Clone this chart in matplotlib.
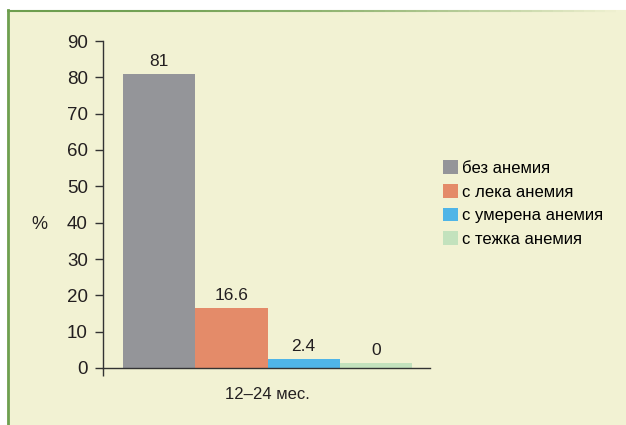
import numpy as np
import matplotlib.pyplot as plt
from matplotlib.patches import Rectangle
from matplotlib.collections import LineCollection

# anemia share by group, children 12-24 months
groups = ["без анемия", "с лека анемия", "с умерена анемия", "с тежка анемия"]
values = [81, 16.6, 2.4, 0]
value_labels = ["81", "16.6", "2.4", "0"]
colors = ["#949599", "#E48B69", "#4FB5E7", "#C3E2BD"]
yticks = [0, 10, 20, 30, 40, 50, 60, 70, 80, 90]
category = "12–24 мес."

# keep zero bars visible as a thin stub
ZERO_STUB = 1.4

plt.rcParams["font.family"] = ["Liberation Sans", "DejaVu Sans"]
text_color = "#231F20"

fig = plt.figure(figsize=(6.26, 4.25), dpi=100)

# cream panel with green frame on the left and a fading top edge
bg = fig.add_axes([0, 0, 1, 1], zorder=-1)
bg.set_xlim(0, 626)
bg.set_ylim(425, 0)
bg.axis("off")
bg.add_patch(Rectangle((7, 10), 619, 415, facecolor="#F2F2D3", edgecolor="none"))
bg.plot([8, 8], [10, 425], color="#6E9F50", lw=2)
xs = np.linspace(7, 626, 60)
segs = [[(a, 10.5), (b, 10.5)] for a, b in zip(xs[:-1], xs[1:])]
fade = np.linspace(0, 1, len(segs))
green = np.array([0.43, 0.62, 0.31])
cream = np.array([0.95, 0.95, 0.83])
seg_colors = [tuple(green * (1 - f ** 2) + cream * f ** 2) for f in fade]
bg.add_collection(LineCollection(segs, colors=seg_colors, linewidths=1.5))

ax = fig.add_axes([103 / 626, 1 - 368 / 425, (430 - 103) / 626, (368 - 41) / 425])
ax.patch.set_alpha(0)

x = list(range(len(values)))
heights = [v if v > 0 else ZERO_STUB for v in values]
bars = ax.bar(x, heights, width=1.0, color=colors, label=groups)
for xi, h, lab in zip(x, heights, value_labels):
    ax.text(xi, h + 1.4, lab, ha="center", va="bottom", fontsize=12.5, color=text_color)

ax.set_xlim(-0.78, 3.75)
ax.set_ylim(0, 90)
ax.set_yticks(yticks)
ax.tick_params(axis="y", direction="out", length=6, width=1, color="#333333",
               labelsize=13.5, labelcolor=text_color, pad=5)
ax.set_xticks([1.5])
ax.set_xticklabels([category])
ax.tick_params(axis="x", length=0, labelsize=12, labelcolor=text_color, pad=14)
ax.set_xticks([-0.78], minor=True)
ax.tick_params(axis="x", which="minor", direction="out", length=6, width=1, color="#333333")

for s in ["top", "right"]:
    ax.spines[s].set_visible(False)
for s in ["left", "bottom"]:
    ax.spines[s].set_color("#333333")
    ax.spines[s].set_linewidth(1)

ax.set_ylabel("%", rotation=0, fontsize=13, color=text_color, va="center")
ax.yaxis.set_label_coords(-0.195, 0.44)

ax.legend(handles=bars, labels=groups, loc="center left", bbox_to_anchor=(1.02, 0.503),
          frameon=False, fontsize=12, handlelength=0.9, handleheight=0.9,
          handletextpad=0.25, labelspacing=0.48, borderaxespad=0)

fig.savefig("out.png", dpi=100)
